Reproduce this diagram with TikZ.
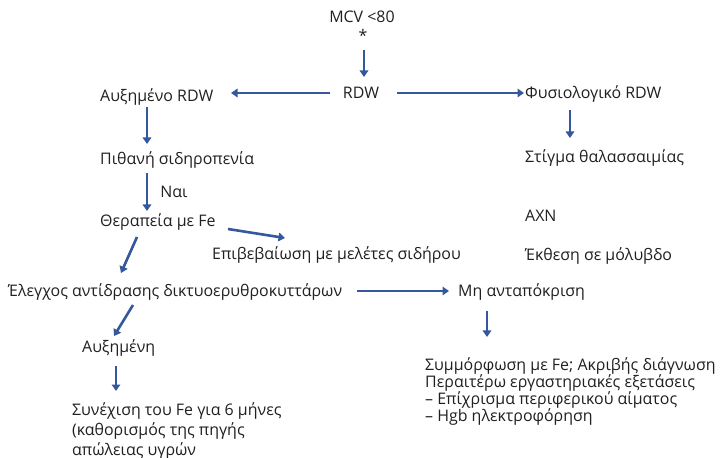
\documentclass[tikz,border=0pt]{standalone}
\usepackage{fontspec}
\setmainfont{Open Sans}
\usetikzlibrary{arrows.meta}
\definecolor{arr}{RGB}{52,88,158}
\definecolor{txt}{RGB}{35,31,32}
\begin{document}
\begin{tikzpicture}[x=1bp,y=-1bp,
  lbl/.style={anchor=base west,inner sep=0pt,text=txt,font=\fontsize{16}{19}\selectfont},
  clbl/.style={anchor=base,inner sep=0pt,text=txt,font=\fontsize{16}{19}\selectfont},
  arrline/.style={draw=arr,line width=2.6bp,-{Triangle[length=6.5bp,width=8.5bp]}}]
\useasboundingbox[fill=white] (0,0) rectangle (720,458);
% top
\node[clbl] (mcv) at (362,23) {MCV <80};
\node[clbl] (star) at (363,42) {*};
\node[clbl] (rdw) at (361,99) {RDW};
% left column
\node[lbl] (aux) at (100,102) {Αυξημένο RDW};
\node[lbl] (pith) at (100,165) {Πιθανή σιδηροπενία};
\node[lbl] (ther) at (100,227) {Θεραπεία με Fe};
\node[lbl] (epib) at (212,260) {Επιβεβαίωση με μελέτες σιδήρου};
\node[lbl] (eleg) at (8,297) {Έλεγχος αντίδρασης δικτυοερυθροκυττάρων};
\node[lbl] (auxn) at (82,353) {Αυξημένη};
\node[lbl] (syn1) at (72,415) {Συνέχιση του Fe για 6 μήνες};
\node[lbl] (syn2) at (72,435) {(καθορισμός της πηγής};
\node[lbl] (syn3) at (72,455) {απώλειας υγρών};
% right column
\node[lbl] (fys) at (525,99) {Φυσιολογικό RDW};
\node[lbl] (stig) at (525,163) {Στίγμα θαλασσαιμίας};
\node[lbl] (axn) at (525,222) {AXN};
\node[lbl] (ekth) at (525,261) {Έκθεση σε μόλυβδο};
\node[lbl] (mhan) at (458,297) {Μη ανταπόκριση};
\node[lbl] (sym1) at (425,370) {Συμμόρφωση με Fe; Ακριβής διάγνωση};
\node[lbl] (sym2) at (425,387) {Περαιτέρω εργαστηριακές εξετάσεις};
\node[lbl] (sym3) at (425,404) {– Επίχρισμα περιφερικού αίματος};
\node[lbl] (sym4) at (425,421) {– Hgb ηλεκτροφόρηση};
% coordinates for arrow ends
\coordinate (a1s) at (364,50);  \coordinate (a1e) at (364,77);
\coordinate (a2s) at (330,93);  \coordinate (a2e) at (231,93);
\coordinate (a3s) at (397,93);  \coordinate (a3e) at (524,93);
\coordinate (a4s) at (570,110); \coordinate (a4e) at (570,138);
\coordinate (a5s) at (147,107); \coordinate (a5e) at (147,144);
\coordinate (a6s) at (147,173); \coordinate (a6e) at (147,211);
\coordinate (a7s) at (228,229); \coordinate (a7e) at (285,238);
\coordinate (a8s) at (137,237); \coordinate (a8e) at (121,273);
\coordinate (a9s) at (357,291); \coordinate (a9e) at (449,291);
\coordinate (a10s) at (487,311); \coordinate (a10e) at (487,337);
\coordinate (a11s) at (133,305); \coordinate (a11e) at (114,336);
\coordinate (a12s) at (116,366); \coordinate (a12e) at (116,391);
\draw[arrline] (a1s) -- (a1e);
\draw[arrline] (a2s) -- (a2e);
\draw[arrline] (a3s) -- (a3e);
\draw[arrline] (a4s) -- (a4e);
\draw[arrline] (a5s) -- (a5e);
\draw[arrline] (a6s) -- node[lbl,anchor=west,xshift=12bp]{Ναι} (a6e);
\draw[arrline] (a7s) -- (a7e);
\draw[arrline] (a8s) -- (a8e);
\draw[arrline] (a9s) -- (a9e);
\draw[arrline] (a10s) -- (a10e);
\draw[arrline] (a11s) -- (a11e);
\draw[arrline] (a12s) -- (a12e);
\end{tikzpicture}
\end{document}
